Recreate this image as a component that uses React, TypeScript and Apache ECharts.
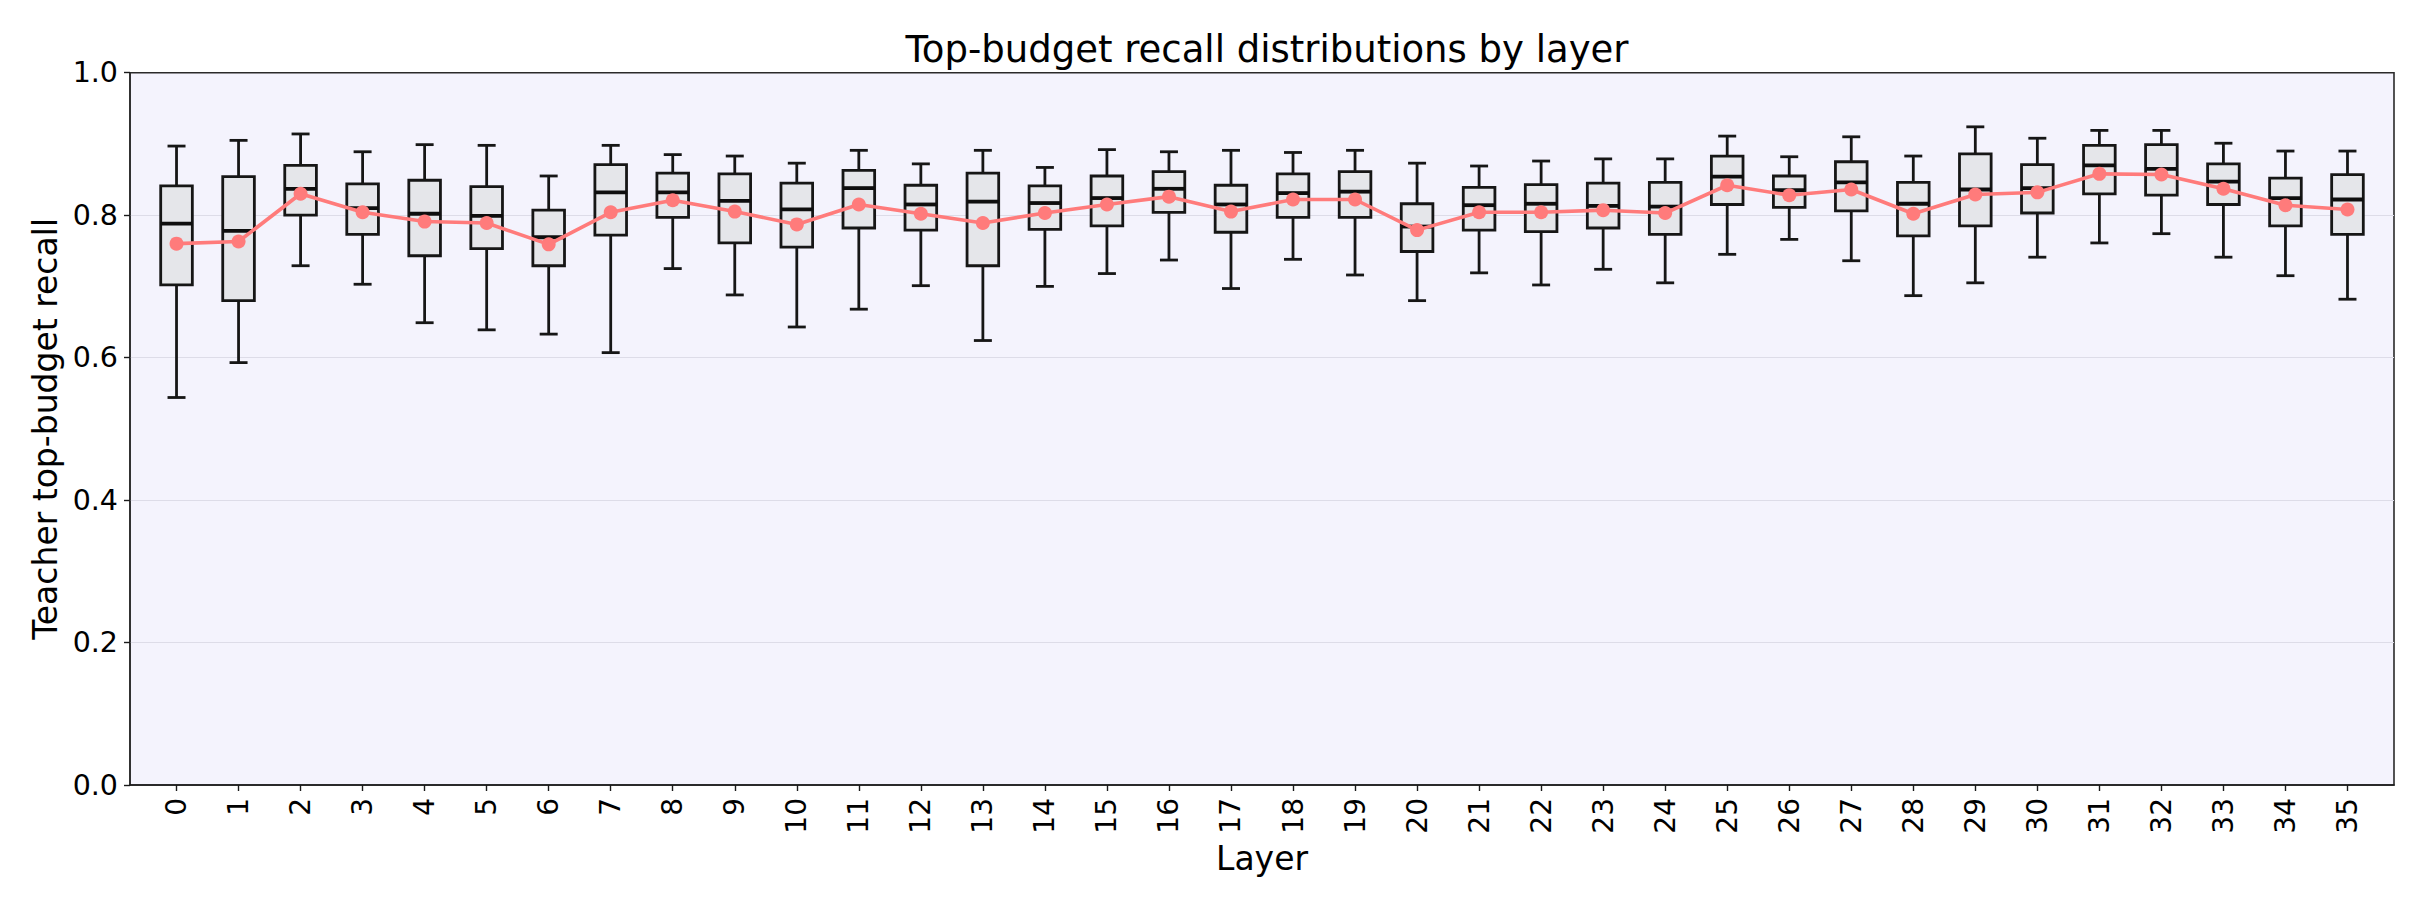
import React, { useEffect, useRef } from "react";
import * as echarts from "echarts";

const layers = [0, 1, 2, 3, 4, 5, 6, 7, 8, 9, 10, 11, 12, 13, 14, 15, 16, 17, 18, 19, 20, 21, 22, 23, 24, 25, 26, 27, 28, 29, 30, 31, 32, 33, 34, 35];

const whiskerLow = [0.544, 0.593, 0.729, 0.703, 0.649, 0.639, 0.633, 0.607, 0.725, 0.688, 0.643, 0.668, 0.701, 0.624, 0.700, 0.718, 0.737, 0.697, 0.738, 0.716, 0.680, 0.719, 0.702, 0.724, 0.705, 0.745, 0.766, 0.736, 0.687, 0.705, 0.741, 0.761, 0.774, 0.741, 0.715, 0.682];
const q1 = [0.702, 0.680, 0.800, 0.773, 0.743, 0.753, 0.729, 0.772, 0.797, 0.761, 0.755, 0.782, 0.779, 0.729, 0.780, 0.785, 0.804, 0.776, 0.797, 0.797, 0.749, 0.779, 0.777, 0.782, 0.773, 0.815, 0.811, 0.806, 0.771, 0.785, 0.803, 0.830, 0.828, 0.815, 0.785, 0.773];
const median = [0.788, 0.778, 0.837, 0.810, 0.802, 0.799, 0.769, 0.832, 0.832, 0.820, 0.808, 0.838, 0.815, 0.819, 0.817, 0.824, 0.837, 0.815, 0.831, 0.833, 0.784, 0.814, 0.816, 0.813, 0.812, 0.854, 0.835, 0.846, 0.816, 0.836, 0.838, 0.870, 0.865, 0.847, 0.824, 0.822];
const q3 = [0.841, 0.854, 0.870, 0.844, 0.849, 0.840, 0.807, 0.871, 0.859, 0.858, 0.845, 0.863, 0.842, 0.859, 0.841, 0.855, 0.861, 0.842, 0.858, 0.861, 0.816, 0.839, 0.843, 0.845, 0.846, 0.883, 0.855, 0.875, 0.846, 0.886, 0.871, 0.898, 0.899, 0.872, 0.852, 0.857];
const whiskerHigh = [0.897, 0.905, 0.914, 0.889, 0.899, 0.898, 0.855, 0.898, 0.885, 0.883, 0.873, 0.891, 0.872, 0.891, 0.867, 0.892, 0.889, 0.891, 0.888, 0.891, 0.873, 0.869, 0.876, 0.879, 0.879, 0.911, 0.882, 0.910, 0.883, 0.924, 0.908, 0.919, 0.919, 0.901, 0.890, 0.890];
const means = [0.760, 0.763, 0.830, 0.804, 0.791, 0.789, 0.759, 0.804, 0.821, 0.805, 0.787, 0.815, 0.802, 0.789, 0.803, 0.815, 0.826, 0.805, 0.822, 0.822, 0.779, 0.804, 0.804, 0.807, 0.803, 0.842, 0.828, 0.836, 0.802, 0.829, 0.832, 0.858, 0.857, 0.837, 0.814, 0.808];

const yTicks = [0, 0.2, 0.4, 0.6, 0.8, 1.0];

const FONT = "DejaVu Sans";
const EDGE = "#161616";

function renderBox(params: any, api: any) {
  const x = api.value(0);
  const pLo = api.coord([x, api.value(1)]);
  const pQ1 = api.coord([x, api.value(2)]);
  const pMed = api.coord([x, api.value(3)]);
  const pQ3 = api.coord([x, api.value(4)]);
  const pHi = api.coord([x, api.value(5)]);
  const bw = api.size([0.51, 0])[0];
  const cw = api.size([0.29, 0])[0];
  const cx = pMed[0];
  const ls = { stroke: EDGE, lineWidth: 2.8 };
  return {
    type: "group",
    children: [
      { type: "line", shape: { x1: cx, y1: pQ3[1], x2: cx, y2: pHi[1] }, style: ls },
      { type: "line", shape: { x1: cx, y1: pQ1[1], x2: cx, y2: pLo[1] }, style: ls },
      { type: "line", shape: { x1: cx - cw / 2, y1: pHi[1], x2: cx + cw / 2, y2: pHi[1] }, style: ls },
      { type: "line", shape: { x1: cx - cw / 2, y1: pLo[1], x2: cx + cw / 2, y2: pLo[1] }, style: ls },
      {
        type: "rect",
        shape: { x: cx - bw / 2, y: pQ3[1], width: bw, height: pQ1[1] - pQ3[1] },
        style: { fill: "#e5e6ea", stroke: EDGE, lineWidth: 2.8 },
      },
      {
        type: "line",
        shape: { x1: cx - bw / 2, y1: pMed[1], x2: cx + bw / 2, y2: pMed[1] },
        style: { stroke: "#0e0e0e", lineWidth: 3.8 },
      },
    ],
  };
}

export default function App() {
  const ref = useRef<HTMLDivElement>(null);

  useEffect(() => {
    document.body.style.margin = "0";
    if (!ref.current) return;
    const chart = echarts.init(ref.current, null, { renderer: "svg" });
    const boxData = layers.map((l, i) => [l, whiskerLow[i], q1[i], median[i], q3[i], whiskerHigh[i]]);
    const meanData = layers.map((l, i) => [l, means[i]]);
    chart.setOption({
      animation: false,
      backgroundColor: "#ffffff",
      textStyle: { fontFamily: FONT },
      title: {
        text: "Top-budget recall distributions by layer",
        left: 1262,
        top: 26,
        textAlign: "center",
        textStyle: { fontFamily: FONT, fontSize: 37, fontWeight: "normal", color: "#000" },
      },
      grid: {
        left: 130,
        right: 31,
        top: 72.7,
        bottom: 125,
        show: true,
        backgroundColor: "#f4f3fd",
        borderColor: "#2a2a2a",
        borderWidth: 1.6,
        containLabel: false,
      },
      xAxis: {
        type: "value",
        min: -0.75,
        max: 35.75,
        name: "Layer",
        nameLocation: "middle",
        nameGap: 32,
        nameTextStyle: { fontFamily: FONT, fontSize: 33, color: "#000" },
        axisLine: { show: true, onZero: false, lineStyle: { color: "#1a1a1a", width: 1.6 } },
        axisTick: {
          show: true,
          length: 6,
          lineStyle: { color: "#1a1a1a", width: 1.4 },
          customValues: layers,
        },
        axisLabel: {
          show: true,
          rotate: 90,
          margin: 13,
          fontFamily: FONT,
          fontSize: 28,
          color: "#000",
          customValues: layers,
          formatter: (v: number) => String(Math.round(v)),
        },
        splitLine: { show: false },
      },
      yAxis: {
        type: "value",
        min: 0,
        max: 1,
        interval: 0.2,
        name: "Teacher top-budget recall",
        nameLocation: "middle",
        nameGap: 66,
        nameRotate: 90,
        nameTextStyle: { fontFamily: FONT, fontSize: 33, color: "#000" },
        axisLine: { show: true, onZero: false, lineStyle: { color: "#2a2a2a", width: 1.6 } },
        axisTick: { show: true, length: 6, lineStyle: { color: "#1a1a1a", width: 1.4 } },
        axisLabel: {
          margin: 12,
          fontFamily: FONT,
          fontSize: 28.5,
          color: "#000",
          formatter: (v: number) => v.toFixed(1),
          customValues: yTicks,
        },
        splitLine: {
          show: true,
          showMinLine: false,
          showMaxLine: false,
          lineStyle: { color: "#dddce8", width: 1.2 },
        },
      },
      series: [
        {
          type: "custom",
          name: "boxes",
          renderItem: renderBox,
          encode: { x: 0, y: [1, 2, 3, 4, 5] },
          data: boxData,
          z: 2,
          silent: true,
        },
        {
          type: "line",
          name: "mean",
          data: meanData,
          z: 4,
          symbol: "circle",
          symbolSize: 14,
          itemStyle: { color: "#ff7b7b" },
          lineStyle: { color: "#ff7b7b", width: 3.6 },
          silent: true,
        },
      ],
    });
    return () => chart.dispose();
  }, []);

  return <div ref={ref} style={{ width: 2425, height: 910 }} />;
}
